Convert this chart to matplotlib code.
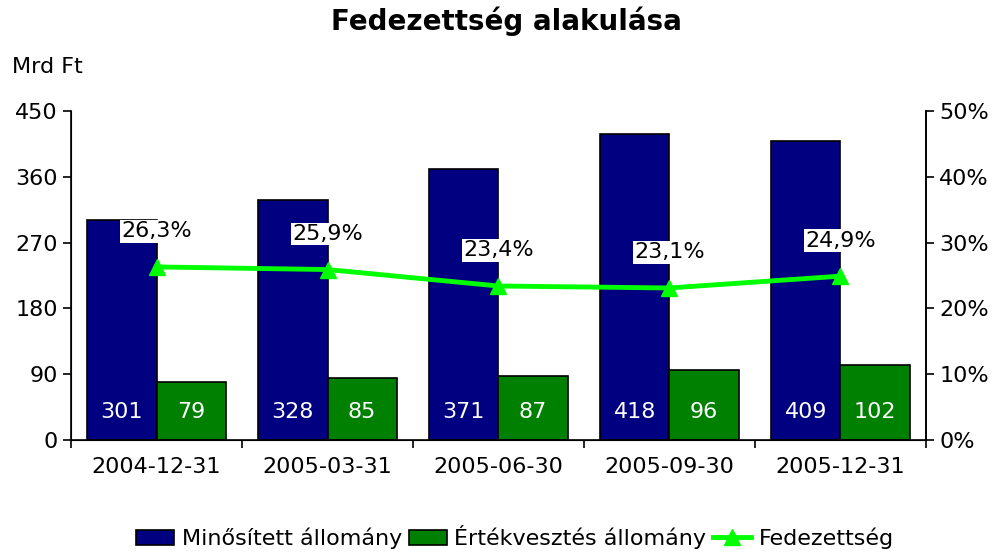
import numpy as np
import matplotlib.pyplot as plt
from matplotlib.ticker import FuncFormatter

# data
dates = ['2004-12-31', '2005-03-31', '2005-06-30', '2005-09-30', '2005-12-31']
minositett = [301, 328, 371, 418, 409]
ertekvesztes = [79, 85, 87, 96, 102]
fedezettseg = [26.3, 25.9, 23.4, 23.1, 24.9]

plt.rcParams['font.family'] = ['DejaVu Sans']
fs = 16

fig = plt.figure(figsize=(10.02, 5.52), dpi=100)
ax = fig.add_axes([0.0709, 0.2029, 0.8532, 0.5961])
ax2 = ax.twinx()

x = np.arange(len(dates))
w = 0.405
b1 = ax.bar(x - w / 2, minositett, w, color='#000080', edgecolor='black', linewidth=1.2,
            label='Minősített állomány')
b2 = ax.bar(x + w / 2, ertekvesztes, w, color='#008000', edgecolor='black', linewidth=1.2,
            label='Értékvesztés állomány')

for xi, v in zip(x, minositett):
    ax.text(xi - w / 2, 38, str(v), color='white', ha='center', va='center', fontsize=fs)
for xi, v in zip(x, ertekvesztes):
    ax.text(xi + w / 2, 38, str(v), color='white', ha='center', va='center', fontsize=fs)

ax.set_xlim(-0.5, len(dates) - 0.5)
ax.set_ylim(0, 450)
ax.set_yticks(np.arange(0, 451, 90))
ax.set_xticks(x)
ax.set_xticklabels(dates)
ax.set_xticks(np.arange(-0.5, len(dates), 1), minor=True)
ax.tick_params(axis='x', which='major', length=0, pad=12, labelsize=fs)
ax.tick_params(axis='x', which='minor', length=6, width=1.2, direction='out')
ax.tick_params(axis='y', length=6, width=1.2, labelsize=fs, direction='out')
ax.spines['top'].set_visible(False)
for s in ['left', 'bottom', 'right']:
    ax.spines[s].set_linewidth(1.2)

ln, = ax2.plot(x, fedezettseg, color='#00FF00', linewidth=3.5, marker='^', markersize=11,
               label='Fedezettség')
for xi, v in zip(x, fedezettseg):
    ax2.text(xi, v + 5.4, f'{v:.1f}%'.replace('.', ','), ha='center', va='center', fontsize=fs,
             bbox=dict(facecolor='white', edgecolor='none', pad=1))
ax2.set_ylim(0, 50)
ax2.set_yticks(np.arange(0, 51, 10))
ax2.yaxis.set_major_formatter(FuncFormatter(lambda v, p: f'{v:.0f}%'))
ax2.tick_params(axis='y', length=6, width=1.2, labelsize=fs, direction='out')
ax2.spines['top'].set_visible(False)
ax2.spines['right'].set_linewidth(1.2)

fig.text(0.505, 0.962, 'Fedezettség alakulása', ha='center', va='center', fontsize=20,
         fontweight='bold')
fig.text(0.012, 0.878, 'Mrd Ft', ha='left', va='center', fontsize=fs)

fig.legend(handles=[b1, b2, ln], loc='center', bbox_to_anchor=(0.514, 0.027), ncol=3,
           frameon=False, fontsize=fs, handlelength=1.7, handletextpad=0.35, columnspacing=0.3,
           borderaxespad=0)

fig.savefig('out.png', dpi=100)
